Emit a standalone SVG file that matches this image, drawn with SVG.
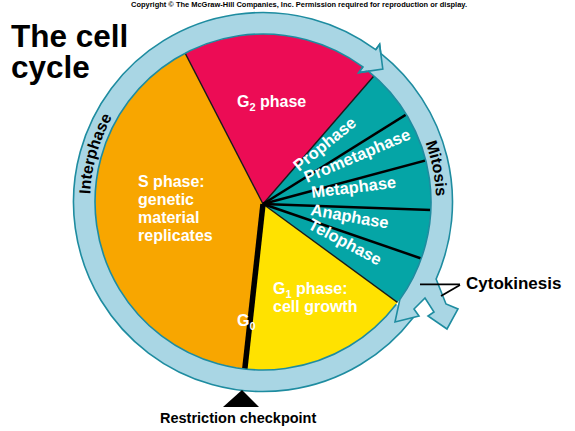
<svg xmlns="http://www.w3.org/2000/svg" width="575" height="431" viewBox="0 0 575 431">
<style>
text{font-family:"Liberation Sans",Arial,sans-serif;font-weight:bold}
.w{fill:#ffffff;font-size:16px}
.m{fill:#ffffff;font-size:16.5px}
.k{fill:#000000}
.band{fill:#a9d6e4;stroke:none}
.edge{fill:none;stroke:#1e8ca0;stroke-width:1.6;stroke-linejoin:miter}
.div{stroke:#1a1a1a;stroke-width:1.4}
.mdiv{stroke:#000;stroke-width:2.5}
</style>
<defs>
<clipPath id="pieclip"><circle cx="263" cy="202" r="168"/></clipPath>
<path id="interArc" d="M100.4,261.2 A173,173 0 0 1 156.5,65.7"/>
<path id="mitArc" d="M395.5,90.8 A173,173 0 0 1 427.5,255.5"/>
</defs>
<rect width="575" height="431" fill="#ffffff"/>
<text id="copyright" x="299" y="6.5" font-size="7.5" text-anchor="middle" textLength="336" lengthAdjust="spacingAndGlyphs" class="k">Copyright © The McGraw-Hill Companies, Inc. Permission required for reproduction or display.</text>
<text id="title" class="k" font-size="31.5"><tspan x="11" y="47">The cell</tspan><tspan x="11" y="78">cycle</tspan></text>
<g id="pie" clip-path="url(#pieclip)">
<circle id="s-phase-wedge" cx="263" cy="202" r="168" fill="#f8a600"/>
<polygon id="g2-wedge" points="263,204 162.1,8.5 291.4,-34.3 407,37.7" fill="#ec0c55"/>
<polygon id="mitosis-wedge" points="263,204 407,37.7 501.5,177 440.5,333.9" fill="#05a5a6"/>
<polygon id="g1-wedge" points="263,204 440.5,333.9 359.6,423.7 238.9,422.7" fill="#ffe200"/>
<line class="div" x1="263" y1="204" x2="162.1" y2="8.5"/>
<line class="div" x1="263" y1="204" x2="407" y2="37.7"/>
<line class="div" x1="263" y1="204" x2="440.5" y2="333.9"/>
<line class="mdiv" x1="263" y1="204" x2="449.6" y2="87.4"/>
<line class="mdiv" x1="263" y1="204" x2="475.5" y2="147.1"/>
<line class="mdiv" x1="263" y1="204" x2="482.9" y2="211.7"/>
<line class="mdiv" x1="263" y1="204" x2="471" y2="275.6"/>
<line id="g0-line" x1="263" y1="204" x2="238.9" y2="422.7" stroke="#000" stroke-width="5.5"/>
</g>
<g id="phase-labels">
<text id="g2-label" class="w" x="237" y="107">G<tspan font-size="11" dy="4">2</tspan><tspan dy="-4"> phase</tspan></text>
<text id="s-label" class="w"><tspan x="138" y="187">S phase:</tspan><tspan x="138" y="205">genetic</tspan><tspan x="138" y="223">material</tspan><tspan x="138" y="241">replicates</tspan></text>
<text id="g1-label" class="w"><tspan x="273" y="294">G</tspan><tspan font-size="11" dy="4">1</tspan><tspan dy="-4"> phase:</tspan><tspan x="273" y="312">cell growth</tspan></text>
<text id="g0-label" class="w" x="237" y="326">G<tspan font-size="11" dy="4">0</tspan></text>
<text class="m" transform="translate(299,172) rotate(-39)">Prophase</text>
<text class="m" transform="translate(307,183) rotate(-23)">Prometaphase</text>
<text class="m" transform="translate(312,198) rotate(-7)">Metaphase</text>
<text class="m" transform="translate(310,215) rotate(10)">Anaphase</text>
<text class="m" transform="translate(307,228) rotate(28)">Telophase</text>
</g>
<g id="interphase-arrow">
<path class="band" d="M413.3,317.4 A189.5,189.5 0 1 1 375.7,49.7 L379.6,44.4 L382.8,69 L358.8,72.6 L362.9,66.9 A168,168 0 1 0 396.3,304.3 Z"/>
<path class="edge" d="M413.3,317.4 A189.5,189.5 0 1 1 375.7,49.7 L379.6,44.4 L382.8,69 L358.8,72.6 L362.9,66.9 A168,168 0 1 0 396.3,304.3"/>
<text class="k" font-size="16"><textPath href="#interArc" startOffset="50%" text-anchor="middle">Interphase</textPath></text>
</g>
<g id="mitosis-arrow">
<path class="band" d="M365.3,68.7 L378.4,51.6 A189.5,189.5 0 0 1 436.1,279.1 L446,304 L458,309 L447,329 L428,316 L434,312 L425,298 L414,309 L419,316 L395,322 L399.8,299.6 A168,168 0 0 0 365.3,68.7 Z"/>
<path class="edge" d="M381,53.7 A189.5,189.5 0 0 1 436.1,279.1 L446,304 L458,309 L447,329 L428,316 L434,312 L425,298 L414,309 L419,316 L395,322 L399.8,299.6 A168,168 0 0 0 368,70.9"/>
<text class="k" font-size="16"><textPath href="#mitArc" startOffset="50%" text-anchor="middle">Mitosis</textPath></text>
</g>
<path id="interphase-arrowhead-edge" class="edge" d="M375.7,49.7 L379.6,44.4 L382.8,69 L358.8,72.6 L362.9,66.9"/>
<g id="connectors" stroke="#000" stroke-width="1.8" fill="none">
<line x1="420" y1="284.3" x2="460" y2="284.3"/>
<line x1="441" y1="296" x2="460" y2="285"/>
</g>
<g id="cytokinesis">
<text class="k" x="466" y="289" font-size="17">Cytokinesis</text>
</g>
<g id="restriction-checkpoint">
<polygon points="242,390 223,407 259,407" fill="#000"/>
<text class="k" x="160" y="423" font-size="14.5">Restriction checkpoint</text>
</g>
</svg>
